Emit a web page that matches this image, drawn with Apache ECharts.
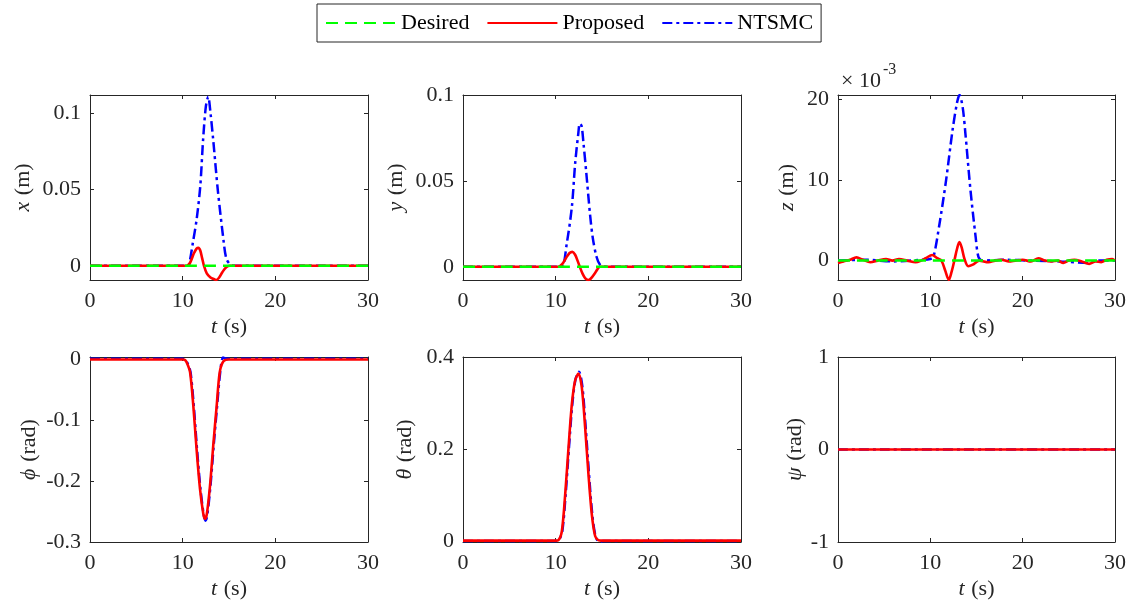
<!DOCTYPE html>
<html>
<head>
<meta charset="utf-8">
<title>Position and attitude tracking</title>
<script src="https://cdn.jsdelivr.net/npm/echarts@6/dist/echarts.min.js"></script>
<style>
  html, body { margin: 0; padding: 0; background: #fff; }
  #chart { width: 1139px; height: 610px; }
</style>
</head>
<body>
<div id="chart"></div>
<script>
// ---- data: time (s) / value pairs for each panel ----
const seriesNames = ['Desired', 'Proposed', 'NTSMC'];
const xTickLabels = [0, 10, 20, 30];

// x (m)
const xDesT = [0, 30];
const xDes = [0, 0];
const xPropT = [0, 5, 10, 10.4, 10.8, 11.2, 11.5, 11.7, 11.9, 12.1, 12.3, 12.6, 13.0, 13.3, 13.6, 13.9, 14.3, 14.7, 15.1, 16, 20, 25, 30];
const xProp = [0, 0, 0, 0, 0.002, 0.008, 0.0112, 0.0118, 0.010, 0.005, 0, -0.005, -0.0077, -0.0085, -0.0093, -0.008, -0.004, -0.001, 0, 0, 0, 0, 0];
const xNtsT = [0, 5, 10, 10.6, 10.8, 11.1, 11.5, 11.9, 12.2, 12.5, 12.76, 13.0, 13.3, 13.8, 14.4, 14.7, 15.1, 15.5, 20, 25, 30];
const xNts = [0, 0, 0, 0, 0.004, 0.015, 0.030, 0.052, 0.082, 0.104, 0.1105, 0.100, 0.082, 0.049, 0.017, 0.005, 0.001, 0, 0, 0, 0];
const xTicks = [0, 0.05, 0.1];

// y (m)
const yDesT = [0, 30];
const yDes = [0, 0];
const yPropT = [0, 5, 10, 10.3, 10.7, 11.1, 11.5, 11.8, 12.1, 12.4, 12.6, 12.9, 13.2, 13.5, 13.8, 14.2, 14.5, 14.8, 16, 20, 25, 30];
const yProp = [0, 0, 0, 0, 0.0015, 0.005, 0.008, 0.0087, 0.007, 0.003, 0, -0.004, -0.0068, -0.0077, -0.0068, -0.004, -0.0015, 0, 0, 0, 0, 0];
const yNtsT = [0, 5, 10, 10.67, 11.2, 11.75, 12.1, 12.45, 12.6, 12.8, 13.0, 13.3, 13.7, 14.0, 14.4, 14.8, 15.2, 20, 25, 30];
const yNts = [0, 0, 0, 0, 0.0136, 0.035, 0.060, 0.078, 0.0834, 0.082, 0.072, 0.055, 0.031, 0.017, 0.006, 0.001, 0, 0, 0, 0];
const yTicks = [0, 0.05, 0.1];

// z (×10^-3 m)
const zDesT = [0, 30];
const zDes = [0, 0];
const zPropT = [0, 0.6, 1.3, 2.0, 2.7, 3.5, 4.3, 5.2, 5.9, 6.6, 7.5, 8.4, 9.0, 9.5, 10.2, 10.75, 11.2, 11.6, 12.0, 12.3, 12.6, 12.9, 13.15, 13.4, 13.7, 14.1, 14.6, 15.3, 16.3, 17.0, 17.7, 18.5, 19.2, 20.0, 20.9, 21.7, 22.4, 23.1, 23.8, 24.4, 25.0, 25.6, 26.4, 27.2, 27.9, 28.5, 29.1, 29.7, 30];
const zProp = [-0.3, -0.1, 0.1, 0.4, 0.1, -0.2, 0.0, 0.2, 0.0, 0.2, 0.0, -0.2, 0.0, 0.3, 0.7, 0.3, 0.0, -1.2, -2.4, -1.4, 0.0, 1.5, 2.3, 1.6, 0.2, -0.7, -0.5, 0.0, -0.2, 0.0, 0.1, -0.1, 0.0, 0.1, -0.1, 0.3, 0.0, -0.1, 0.0, -0.3, 0.0, 0.1, -0.1, -0.4, -0.1, -0.2, 0.1, 0.2, 0.0];
const zNtsT = [0, 3, 6, 9, 10.0, 10.35, 11.0, 11.7, 12.4, 12.9, 13.16, 13.5, 13.8, 14.35, 14.9, 15.2, 15.6, 18, 21, 24, 27.2, 28, 30];
const zNts = [0, 0.1, -0.1, 0.1, 0.2, 0.5, 4.6, 9.9, 16.1, 19.6, 20.5, 19.0, 15.7, 8.7, 3.0, 0.5, 0.0, 0.1, 0.0, -0.1, -0.3, 0, 0];
const zTicks = [0, 10, 20];

// phi (rad)
const phiPropT = [0, 5, 10, 10.26, 10.5, 10.8, 11.15, 11.5, 11.87, 12.23, 12.42, 12.6, 12.95, 13.3, 13.67, 14.0, 14.4, 15, 20, 25, 30];
const phiProp = [-0.001, -0.001, -0.001, -0.002, -0.008, -0.022, -0.077, -0.148, -0.213, -0.254, -0.262, -0.255, -0.208, -0.142, -0.077, -0.022, -0.004, -0.001, -0.001, -0.001, -0.001];
const phiNtsT = [0, 10, 10.3, 10.55, 10.85, 11.2, 11.55, 11.92, 12.28, 12.47, 12.65, 13.0, 13.35, 13.72, 14.05, 14.35, 14.6, 15, 20, 30];
const phiNts = [0, 0, -0.002, -0.008, -0.022, -0.077, -0.148, -0.213, -0.256, -0.265, -0.257, -0.208, -0.142, -0.077, -0.022, 0.002, 0.001, 0, 0, 0];
const phiTicks = [-0.3, -0.2, -0.1, 0];

// theta (rad)
const thetaPropT = [0, 5, 10, 10.3, 10.67, 11.03, 11.39, 11.75, 12.1, 12.46, 12.82, 13.18, 13.54, 13.9, 14.26, 14.6, 15, 20, 25, 30];
const thetaProp = [0.001, 0.001, 0.001, 0.002, 0.022, 0.102, 0.204, 0.298, 0.349, 0.364, 0.334, 0.247, 0.145, 0.058, 0.011, 0.002, 0.001, 0.001, 0.001, 0.001];
const thetaNtsT = [0, 10, 10.35, 10.72, 11.08, 11.44, 11.8, 12.15, 12.52, 12.88, 13.24, 13.6, 13.95, 14.3, 14.7, 15.1, 20, 30];
const thetaNts = [0, 0, 0.002, 0.022, 0.102, 0.204, 0.298, 0.352, 0.368, 0.336, 0.247, 0.145, 0.058, 0.011, -0.002, 0, 0, 0];
const thetaTicks = [0, 0.2, 0.4];

// psi (rad)
const psiPropT = [0, 30];
const psiProp = [0, 0];
const psiNtsT = [0, 30];
const psiNts = [0, 0];
const psiTicks = [-1, 0, 1];

// ---- styling ----
const FONT = '"Liberation Serif", "DejaVu Serif", serif';
const AXIS_COLOR = '#262626';
const GREEN = '#00ff00', RED = '#ff0000', BLUE = '#0000ff';

const pair = (t, v) => t.map((ti, i) => [ti, v[i]]);

// panel layout: grid boxes and y-axis settings
const panels = [
  { left: 90,  top: 95,  width: 278, height: 185, min: -0.0093, max: 0.1116, ticks: xTicks, sym: 'x', unit: '(m)', gap: 56,
    lines: [['NTSMC', xNtsT, xNts], ['Proposed', xPropT, xProp], ['Desired', xDesT, xDes]] },
  { left: 463, top: 95,  width: 278, height: 185, min: -0.0077, max: 0.1, ticks: yTicks, sym: 'y', unit: '(m)', gap: 56,
    lines: [['NTSMC', yNtsT, yNts], ['Proposed', yPropT, yProp], ['Desired', yDesT, yDes]] },
  { left: 838, top: 95,  width: 277, height: 185, min: -2.4, max: 20.5, ticks: zTicks, sym: 'z', unit: '(m)', gap: 40,
    lines: [['NTSMC', zNtsT, zNts], ['Proposed', zPropT, zProp], ['Desired', zDesT, zDes]] },
  { left: 90,  top: 357, width: 278, height: 185, min: -0.3, max: 0.003, ticks: phiTicks, sym: 'ϕ', unit: '(rad)', gap: 50,
    lines: [['NTSMC', phiNtsT, phiNts], ['Proposed', phiPropT, phiProp]] },
  { left: 463, top: 357, width: 278, height: 185, min: -0.002, max: 0.4, ticks: thetaTicks, sym: 'θ', unit: '(rad)', gap: 47,
    lines: [['NTSMC', thetaNtsT, thetaNts], ['Proposed', thetaPropT, thetaProp]] },
  { left: 838, top: 357, width: 277, height: 185, min: -1, max: 1, ticks: psiTicks, sym: 'ψ', unit: '(rad)', gap: 32,
    lines: [['NTSMC', psiNtsT, psiNts], ['Proposed', psiPropT, psiProp]] }
];

const lineStyles = {
  Desired:  { color: GREEN, width: 2.5, type: [12, 7] },
  Proposed: { color: RED,   width: 2.6, type: 'solid' },
  NTSMC:    { color: BLUE,  width: 2.5, type: [10, 4, 3, 4] }
};

const nameRich = {
  i: { fontStyle: 'italic', fontFamily: FONT, fontSize: 22, color: AXIS_COLOR },
  r: { fontFamily: FONT, fontSize: 22, color: AXIS_COLOR }
};

const grid = [], xAxis = [], yAxis = [], series = [];

panels.forEach((p, k) => {
  grid.push({ left: p.left, top: p.top, width: p.width, height: p.height, containLabel: false });
  const tick = { show: true, inside: true, length: 4, lineStyle: { color: AXIS_COLOR, width: 1 } };
  const line = { show: true, onZero: false, lineStyle: { color: AXIS_COLOR, width: 1 } };

  // bottom time axis
  xAxis.push({
    type: 'value', gridIndex: k, position: 'bottom', min: 0, max: 30, interval: 10,
    axisLine: line, axisTick: tick, splitLine: { show: false },
    axisLabel: { show: true, color: AXIS_COLOR, fontFamily: FONT, fontSize: 22, margin: 10,
      customValues: xTickLabels },
    name: '{i|t}  {r|(s)}', nameLocation: 'middle', nameGap: 36,
    nameTextStyle: { rich: nameRich }
  });
  // top mirror
  xAxis.push({
    type: 'value', gridIndex: k, position: 'top', min: 0, max: 30, interval: 10,
    axisLine: line, axisTick: tick, axisLabel: { show: false }, splitLine: { show: false }
  });
  // left value axis
  yAxis.push({
    type: 'value', gridIndex: k, position: 'left', min: p.min, max: p.max,
    axisLine: line, splitLine: { show: false },
    axisTick: Object.assign({ customValues: p.ticks }, tick),
    axisLabel: { show: true, color: AXIS_COLOR, fontFamily: FONT, fontSize: 22, margin: 9,
      customValues: p.ticks, formatter: v => String(+v.toFixed(6)) },
    name: '{i|' + p.sym + '}  {r|' + p.unit + '}', nameLocation: 'middle', nameGap: p.gap, nameRotate: 90,
    nameTextStyle: { rich: nameRich }
  });
  // right mirror
  yAxis.push({
    type: 'value', gridIndex: k, position: 'right', min: p.min, max: p.max,
    axisLine: line, splitLine: { show: false },
    axisTick: Object.assign({ customValues: p.ticks }, tick),
    axisLabel: { show: false }
  });

  p.lines.forEach(([name, t, v]) => {
    series.push({
      name, type: 'line', xAxisIndex: 2 * k, yAxisIndex: 2 * k,
      data: pair(t, v), symbol: 'none', showSymbol: false,
      smooth: 0.3,
      lineStyle: lineStyles[name], itemStyle: { color: lineStyles[name].color },
      animation: false, silent: true, z: 2
    });
  });
});

const chart = echarts.init(document.getElementById('chart'), null, { renderer: 'canvas' });
chart.setOption({
  backgroundColor: '#ffffff',
  animation: false,
  legend: {
    data: seriesNames,
    left: 317, top: 4,
    padding: [8, 8, 8, 8],
    itemWidth: 70, itemHeight: 14, itemGap: 17,
    itemStyle: { opacity: 0 },
    borderColor: AXIS_COLOR, borderWidth: 1, backgroundColor: '#ffffff',
    textStyle: { fontFamily: FONT, fontSize: 22, color: '#000000' },
    selectedMode: false
  },
  graphic: [
    { type: 'text', left: 841, top: 70, style: { text: '×', font: '22px ' + FONT, fill: AXIS_COLOR } },
    { type: 'text', left: 859, top: 70, style: { text: '10', font: '22px ' + FONT, fill: AXIS_COLOR } },
    { type: 'text', left: 883, top: 62, style: { text: '-3', font: '16px ' + FONT, fill: AXIS_COLOR } }
  ],
  grid, xAxis, yAxis, series
});
</script>
</body>
</html>
